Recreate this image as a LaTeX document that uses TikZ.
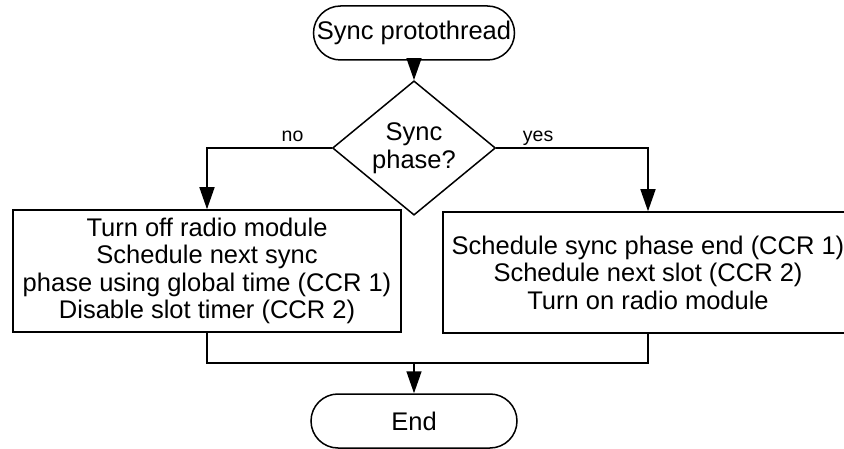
\documentclass[tikz,border=0pt]{standalone}
\usepackage{fontspec}
\setmainfont{Liberation Sans}
\usetikzlibrary{shapes.geometric,arrows.meta}

\tikzset{
  base/.style={draw=black, line width=1.5pt, inner sep=0pt, align=center,
    font=\fontsize{25.5}{27.6}\selectfont, text=black},
  terminal/.style={base, rectangle, rounded corners=27pt,
    minimum height=54pt},
  decision/.style={base, diamond, minimum width=163pt, minimum height=122pt},
  process/.style={base, rectangle},
  flow/.style={line width=1.5pt, draw=black},
  arrow/.style={flow, -{Triangle[length=22pt,width=15pt]}},
  lbl/.style={font=\fontsize{19.5}{21}\selectfont, inner sep=0pt,
    anchor=base, yshift=6pt}
}

\begin{document}
\begin{tikzpicture}[x=1pt, y=-1pt]
  \useasboundingbox (0,0) rectangle (844,449);
  \clip (0,0) rectangle (844,449);

  % nodes
  \node[terminal, minimum width=201pt] (start) at (414,33) {Sync protothread};
  \node[decision] (dec) at (414,148) {Sync\\phase?};
  \node[process, minimum width=388pt, minimum height=122pt] (off) at (207,271)
    {Turn off radio module\\Schedule next sync\\phase using global time (CCR 1)\\Disable slot timer (CCR 2)};
  \node[process, minimum width=410pt, minimum height=121pt] (on) at (648,272.5)
    {Schedule sync phase end (CCR 1)\\Schedule next slot (CCR 2)\\Turn on radio module};
  \node[terminal, minimum width=206pt] (stop) at (414,421) {End};
  \coordinate (merge) at (414,363);

  % connectors
  \draw[arrow] (start.south) -- (dec.north);
  \draw[arrow] (dec.west) -| node[lbl, pos=0.157] {no} (off.north);
  \draw[arrow] (dec.east) -| node[lbl, pos=0.138] {yes} (on.north);
  \draw[flow] (off.south) |- (merge) -| (on.south);
  \draw[arrow] (merge) -- (stop.north);
\end{tikzpicture}
\end{document}
